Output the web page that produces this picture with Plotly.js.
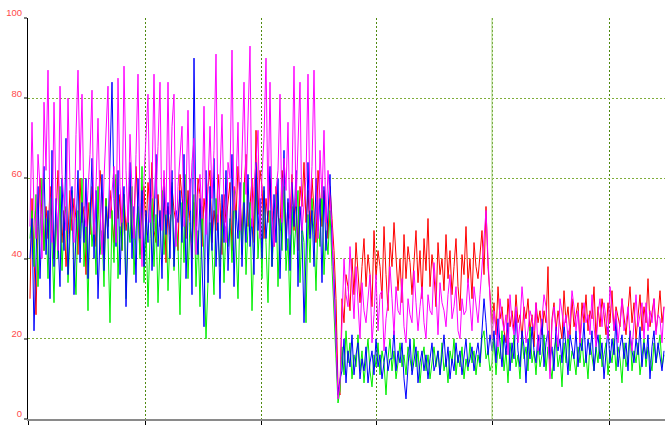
<!DOCTYPE html>
<html>
<head>
<meta charset="utf-8">
<script src="https://cdn.plot.ly/plotly-3.0.1.min.js"></script>
<style>html,body{margin:0;padding:0;background:#fff;}#chart{width:665px;height:443px;}</style>
</head>
<body>
<div id="chart"></div>
<script>
// Sample values (0-100 scale), one per sample index; three phases per series
const redSeries = [
30,55,41,26,48,60,51,42,53,45, 58,47,40,50,62,53,44,52,38,46, 57,47,55,50,41,60,49,53,36,54,
46,58,50,43,51,62,55,40,55,48, 57,51,44,60,50,56,42,56,47,52, 58,45,50,63,50,41,55,58,46,59,
52,64,47,44,56,48,53,60,39,53, 46,58,52,49,42,61,55,51,45,57, 49,40,54,48,60,56,43,55,50,58,
62,44,52,47,61,54,41,56,49,55, 59,42,58,50,63,55,46,57,66,48, 53,60,44,72,51,62,58,45,55,49,
60,52,43,58,51,47,62,56,45,54, 50,61,47,55,42,58,53,64,49,57, 46,60,51,44,62,55,48,57,52,45,
58,50, 42,30,8,6,
30,24,36,33,27,40,31,44,37,29, 38,45,33,41,36,28,47,35,42,38, 30,48,36,27,44,38,49,41,32,40,
29,46,35,43,39,31,39,47,34,42, 30,45,37,50,33,41,36,28,44,36, 40,32,46,35,42,31,38,45,33,27,
41,36,48,34,40,30,44,38,35,42, 47,36,53,38,30,
24,29,21,33,25,28,22,19,30,23, 27,22,31,24,26,20,28,25,30,22, 26,18,29,24,27,21,27,24,38,12,
25,29,22,27,24,20,32,24,28,21, 30,23,26,29,19,29,24,31,22,27, 25,33,20,28,23,30,26,21,29,24,
32,22,28,25,23,30,26,21,27,33, 24,29,20,26,31,22,28,24,35,23, 27,30,22,26,32,24,28
];
const greenSeries = [
45,52,38,56,33,48,60,42,50,35, 55,44,29,51,40,58,37,49,53,34, 46,57,40,31,52,45,60,38,48,27,
54,43,50,36,58,41,47,33,55,45, 24,52,39,61,35,48,42,56,30,50, 44,58,36,47,53,40,63,34,49,28,
45,55,38,51,29,46,57,41,52,32, 48,59,37,50,43,26,54,39,61,35, 49,44,56,33,47,28,53,40,20,36,
49,42,31,55,45,38,52,34,48,43, 50,39,57,44,30,53,41,59,36,48, 54,27,46,60,40,51,35,57,44,29,
52,38,47,56,33,50,42,58,37,45, 26,53,41,49,57,34,48,44,24,51, 39,55,46,32,50,43,58,36,47,41,
52,38, 28,15,4,7,
18,11,22,14,19,10,16,13,21,12, 17,9,15,20,12,8,16,13,19,11, 17,14,6,15,20,12,17,10,14,19,
13,16,11,18,15,12,20,13,17,9, 15,18,12,16,10,14,18,13,17,11, 19,12,15,9,17,14,20,11,16,13,
18,10,15,12,19,14,17,11,16,13, 20,22,15,17,12,
14,20,11,18,15,22,12,17,9,19, 14,21,13,16,10,20,15,18,12,23, 14,17,11,19,13,16,21,12,18,14,
10,17,20,13,16,8,19,14,22,12, 17,15,11,18,14,20,13,16,10,19, 15,12,18,14,21,13,16,19,11,17,
14,20,12,18,15,9,19,13,16,22, 12,17,14,19,11,16,20,13,18,15, 12,19,14,17,21,13,16
];
const blueSeries = [
40,50,22,44,58,35,47,63,41,52, 30,67,38,55,45,33,60,42,70,36, 50,58,31,47,62,39,54,44,60,35,
52,65,40,57,30,48,61,37,53,45, 68,84,55,43,62,36,50,58,28,47, 64,40,53,34,60,45,57,38,52,44,
60,37,49,66,43,52,35,58,46,54, 40,62,38,52,49,57,44,66,35,50, 60,31,90,48,41,55,36,23,62,34,
58,42,65,38,51,30,56,44,62,37, 49,66,33,52,45,59,38,54,44,61, 43,50,36,64,47,55,40,58,45,52,
63,38,56,44,60,35,51,67,42,55, 37,59,48,62,33,53,46,24,40,64, 45,52,38,60,47,55,34,58,42,50,
61,44, 35,20,6,10,
12,20,9,17,13,21,11,16,19,10, 15,12,18,9,14,17,11,20,13,16, 10,14,18,12,15,15,22,12,17,14,
19,10,5,13,20,11,15,18,9,14, 17,12,16,10,15,19,12,14,17,11, 16,21,13,18,10,15,12,19,14,17,
11,16,20,13,15,18,12,16,19,14, 22,30,24,16,21,
17,22,14,25,18,13,21,16,24,12, 19,15,27,17,13,22,18,9,20,15, 23,17,14,21,16,25,13,19,22,15,
18,12,23,17,20,14,24,16,11,21, 18,15,22,13,19,17,24,14,20,16, 22,12,18,21,15,19,10,17,23,14,
20,16,25,13,18,21,15,19,12,22, 17,14,20,16,23,13,19,15,21,10, 18,22,14,19,16,12,17
];
const magentaSeries = [
48,74,52,45,66,58,40,79,62,87, 50,44,79,55,42,83,61,55,47,80, 58,52,44,71,87,62,81,53,48,57,
66,82,46,58,75,53,41,60,72,83, 50,56,63,44,85,58,49,88,62,49, 71,57,45,66,86,54,38,60,70,81,
49,58,86,55,68,84,47,62,51,84, 51,73,81,43,58,65,73,48,56,77, 52,64,70,41,56,61,50,78,46,58,
73,55,67,91,49,60,76,53,44,64, 60,92,52,58,74,47,66,84,56,72, 93,48,58,64,72,45,61,70,90,52,
84,50,43,57,62,81,49,65,57,74, 46,59,88,53,70,84,47,55,60,86, 52,63,87,58,45,67,55,72,49,62,
56,48, 30,20,5,9,
24,40,31,28,43,35,25,38,29,20, 34,27,24,30,36,19,26,36,22,31, 32,17,25,29,38,30,21,33,27,26,
35,23,19,30,26,24,37,29,22,28, 33,24,20,31,27,26,39,32,21,34, 29,27,23,31,36,25,28,33,22,20,
30,26,27,35,29,22,33,29,24,31, 38,45,52,40,28,
20,27,23,18,30,25,22,26,16,31, 24,21,28,19,24,33,27,19,22,27, 25,22,29,17,21,25,31,28,20,10,
24,28,22,18,30,26,23,26,20,24, 32,28,22,27,19,25,29,24,26,21, 31,23,18,26,30,23,29,25,20,33,
27,22,27,19,24,30,22,24,28,21, 17,25,31,23,26,29,20,29,22,27, 24,30,21,26,25,19,28
];
const yTickValues = [0, 20, 40, 60, 80, 100];
const yTickLabels = ['0', '20', '40', '60', '80', '100'];

function trace(y, color) {
  return {x: y.map((_, i) => i), y: y, type: 'scatter', mode: 'lines',
          line: {color: color, width: 1}, hoverinfo: 'skip', showlegend: false};
}
const data = [
  trace(redSeries, '#ff0000'),
  trace(greenSeries, '#00ee00'),
  trace(blueSeries, '#0000ff'),
  trace(magentaSeries, '#ff00ff')
];
const layout = {
  width: 665, height: 443,
  margin: {l: 28, r: 0, t: 18, b: 24, pad: 0},
  paper_bgcolor: '#ffffff', plot_bgcolor: '#ffffff',
  showlegend: false,
  xaxis: {
    range: [-1, 317.5],
    tickmode: 'array', tickvals: [-1, 57.5, 115.5, 173, 231, 289.5],
    showticklabels: false, ticks: 'outside', ticklen: 4, tickcolor: '#000', tickwidth: 1,
    showgrid: true, gridcolor: '#4f8a10', griddash: '2px,2px', gridwidth: 1,
    showline: true, linecolor: '#8a8a8a', linewidth: 2, zeroline: false, fixedrange: true
  },
  yaxis: {
    range: [0, 100],
    tickmode: 'array', tickvals: yTickValues, ticktext: yTickLabels,
    ticks: 'outside', ticklen: 3, tickcolor: '#808080', tickwidth: 2,
    tickfont: {family: 'Liberation Sans, Arial, sans-serif', size: 9.5, color: '#ff4a4a'},
    ticklabelshift: -5,
    showgrid: true, gridcolor: '#7fae3a', griddash: '2px,2px', gridwidth: 1,
    showline: true, linecolor: '#000', linewidth: 1, zeroline: false, fixedrange: true
  },
  shapes: [{
    type: 'line', xref: 'x', yref: 'paper', x0: 231, x1: 231, y0: 0, y1: 1,
    line: {color: '#a6d27a', width: 1}, layer: 'above'
  }]
};
Plotly.newPlot('chart', data, layout, {staticPlot: true, displayModeBar: false});
</script>
</body>
</html>
